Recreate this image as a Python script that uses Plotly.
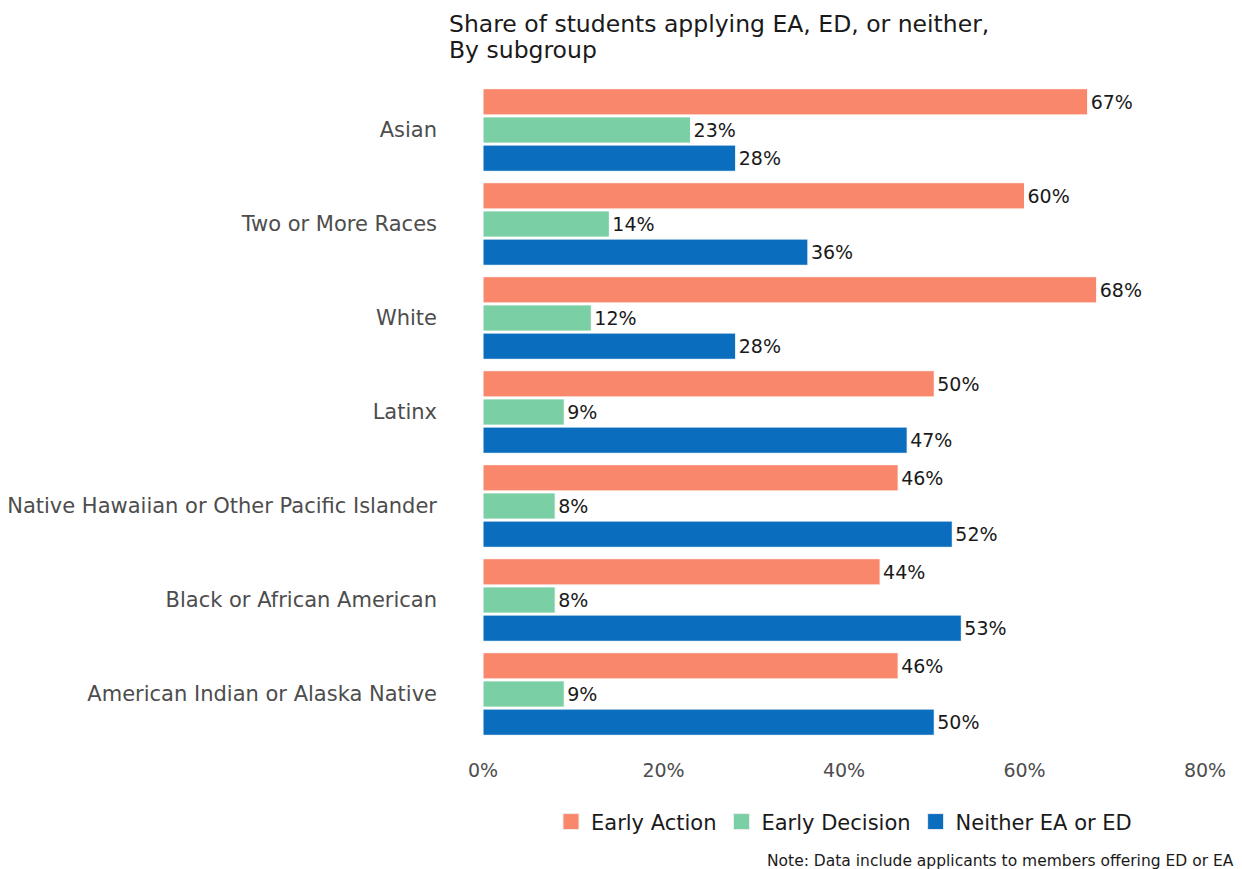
import plotly.graph_objects as go

categories = ["Asian", "Two or More Races", "White", "Latinx",
              "Native Hawaiian or Other Pacific Islander",
              "Black or African American", "American Indian or Alaska Native"]
early_action = [67, 60, 68, 50, 46, 44, 46]
early_decision = [23, 14, 12, 9, 8, 8, 9]
neither = [28, 36, 28, 47, 52, 53, 50]
series_names = ["Early Action", "Early Decision", "Neither EA or ED"]
colors = ["#F8876B", "#7ACFA4", "#0B6DBE"]
tick_vals = [0, 20, 40, 60, 80]
tick_text = ["0%", "20%", "40%", "60%", "80%"]

FONT = "DejaVu Sans"
fig = go.Figure()
for name, vals, col in zip(series_names, [early_action, early_decision, neither], colors):
    fig.add_trace(go.Bar(
        y=categories, x=vals, name=name, orientation="h", showlegend=False,
        marker=dict(color=col, line=dict(color="white", width=1)),
        text=[f"{v}%" for v in vals], textposition="outside",
        textfont=dict(family=FONT, size=19, color="#1a1a1a"),
        cliponaxis=False, hoverinfo="skip",
    ))
# legend entries with square keys
for name, col in zip(series_names, colors):
    fig.add_trace(go.Scatter(
        x=[None], y=[None], mode="markers", name=name,
        marker=dict(symbol="square", size=27, color=col,
                    line=dict(color="#eeeeee", width=1)),
    ))

fig.update_layout(
    width=1234, height=861,
    paper_bgcolor="white", plot_bgcolor="white",
    margin=dict(l=475, r=37, t=75, b=128, autoexpand=False),
    barmode="group", bargap=0.1, bargroupgap=0.07,
    font=dict(family=FONT),
    legend=dict(orientation="h", x=0.5, xanchor="center", y=-0.123, yanchor="middle",
                font=dict(family=FONT, size=21, color="#1a1a1a"),
                traceorder="normal", itemsizing="trace"),
    annotations=[
        dict(text="Share of students applying EA, ED, or neither,",
             xref="paper", yref="paper", x=-0.0499, y=1.0895,
             xanchor="left", yanchor="middle", showarrow=False,
             font=dict(family=FONT, size=23.5, color="#1a1a1a")),
        dict(text="By subgroup",
             xref="paper", yref="paper", x=-0.0499, y=1.0505,
             xanchor="left", yanchor="middle", showarrow=False,
             font=dict(family=FONT, size=23.5, color="#1a1a1a")),
        dict(text="Note: Data include applicants to members offering ED or EA.",
             xref="paper", yref="paper", x=1.0485, y=-0.1825,
             xanchor="right", yanchor="middle", showarrow=False,
             font=dict(family=FONT, size=15.5, color="#1a1a1a")),
    ],
)
fig.update_xaxes(range=[0, 80], tickvals=tick_vals, ticktext=tick_text,
                 showgrid=False, zeroline=False, showline=False, automargin=False,
                 tickfont=dict(size=19, color="#4d4d4d"), ticklabelstandoff=16)
fig.update_yaxes(autorange="reversed", showgrid=False, zeroline=False, showline=False,
                 automargin=False,
                 tickfont=dict(size=21, color="#4d4d4d"), ticklabelstandoff=45)

fig.write_html("out.html")
